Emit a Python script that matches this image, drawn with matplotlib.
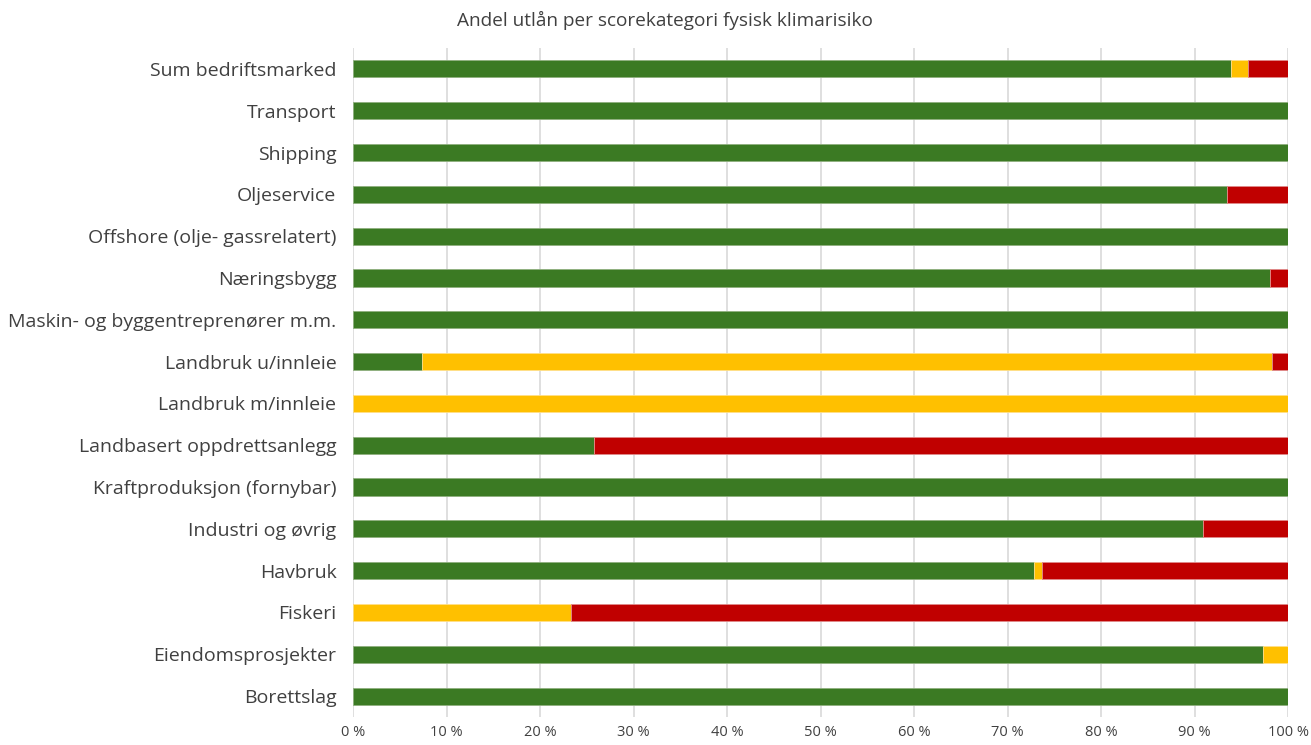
import matplotlib
matplotlib.use("Agg")
import matplotlib.pyplot as plt
import numpy as np

categories = [
    "Sum bedriftsmarked", "Transport", "Shipping", "Oljeservice",
    "Offshore (olje- gassrelatert)", "Næringsbygg",
    "Maskin- og byggentreprenører m.m.", "Landbruk u/innleie",
    "Landbruk m/innleie", "Landbasert oppdrettsanlegg",
    "Kraftproduksjon (fornybar)", "Industri og øvrig", "Havbruk",
    "Fiskeri", "Eiendomsprosjekter", "Borettslag",
]
green = [93.9, 100, 100, 93.5, 100, 98.1, 100, 7.4, 0, 25.8, 100, 90.9, 72.8, 0, 97.3, 100]
yellow = [1.8, 0, 0, 0, 0, 0, 0, 90.9, 100, 0, 0, 0, 0.9, 23.3, 2.7, 0]
red = [4.3, 0, 0, 6.5, 0, 1.9, 0, 1.7, 0, 74.2, 0, 9.1, 26.3, 76.7, 0, 0]
xticks = list(range(0, 101, 10))
xticklabels = [f"{t} %" for t in xticks]
title = "Andel utlån per scorekategori fysisk klimarisiko"

plt.rcParams['font.family'] = ['Open Sans', 'DejaVu Sans']
text_color = "#404040"

fig = plt.figure(figsize=(13.11, 7.45), dpi=100)
ax = fig.add_axes([0.2693, 0.0376, 0.7132, 0.898])

y = np.arange(len(categories))
g = np.array(green); yl = np.array(yellow); r = np.array(red)
h = 0.41
ax.barh(y, g, height=h, color="#3B7A23", edgecolor="#8fb07f", linewidth=0.6, zorder=3)
ax.barh(y, yl, left=g, height=h, color="#FFC000", edgecolor="#ffe08a", linewidth=0.6, zorder=3)
ax.barh(y, r, left=g + yl, height=h, color="#C00000", edgecolor="#e08a8a", linewidth=0.6, zorder=3)

ax.set_xlim(0, 100)
ax.set_ylim(len(categories) - 0.5, -0.5)
ax.set_yticks(y)
ax.set_yticklabels(categories, fontsize=14, color=text_color)
ax.set_xticks(xticks)
ax.set_xticklabels(xticklabels, fontsize=10.5, color=text_color)
ax.tick_params(axis='both', length=0)
ax.tick_params(axis='y', pad=12)
ax.tick_params(axis='x', pad=6)
for s in ax.spines.values():
    s.set_visible(False)
ax.xaxis.grid(True, color="#d9d9d9", linewidth=1.2, zorder=0)
ax.set_axisbelow(True)

fig.text(0.507, 0.972, title, ha='center', va='center', fontsize=13.7, color=text_color)

fig.savefig("out.png", dpi=100)
